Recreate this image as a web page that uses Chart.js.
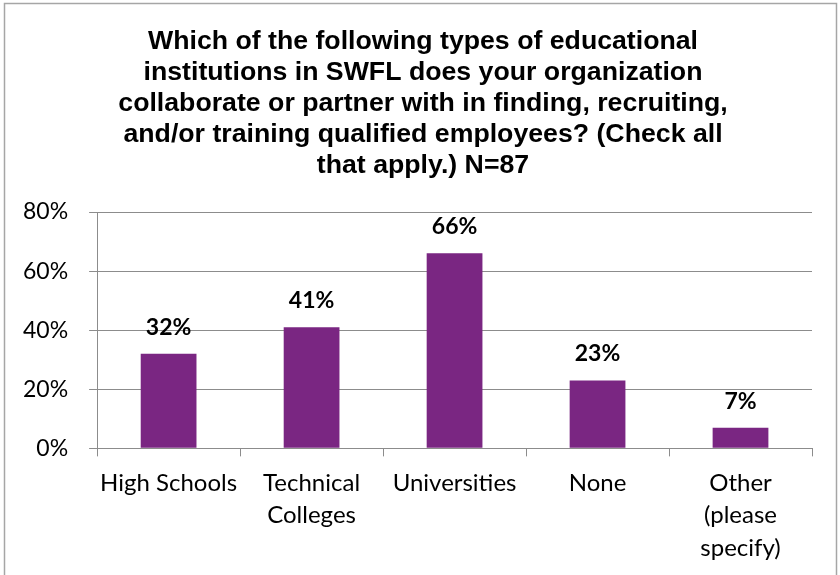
<!DOCTYPE html>
<html>
<head>
<meta charset="utf-8">
<script src="https://cdn.jsdelivr.net/npm/chart.js@4.4.1/dist/chart.umd.min.js"></script>
<style>
  html, body { margin: 0; padding: 0; background: #ffffff; }
  #wrap { position: relative; width: 840px; height: 575px; }
</style>
</head>
<body>
<div id="wrap"><canvas id="chart" width="840" height="575"></canvas></div>
<script>
// Survey: educational institution types organizations partner with (N=87)
const titleLines = [
  'Which of the following types of educational',
  'institutions in SWFL does your organization',
  'collaborate or partner with in finding, recruiting,',
  'and/or training qualified employees? (Check all',
  'that apply.) N=87'
];
const categories = [
  ['High Schools'],
  ['Technical', 'Colleges'],
  ['Universities'],
  ['None'],
  ['Other', '(please', 'specify)']
];
const percentValues = [32, 41, 66, 23, 7];
const yTicks = [0, 20, 40, 60, 80];

const BAR_COLOR = '#7A2682';
const GRID_COLOR = '#8C8C8C';
const BODY_FONT = 'Lato, "Open Sans", sans-serif';
const TITLE_FONT = 'bold 26.7px "Liberation Sans", Arial, sans-serif';

// Frame around the whole chart
const framePlugin = {
  id: 'frame',
  beforeDraw(chart) {
    const ctx = chart.ctx;
    ctx.save();
    ctx.fillStyle = '#ffffff';
    ctx.fillRect(0, 0, chart.width, chart.height);
    ctx.strokeStyle = '#A6A6A6';
    ctx.lineWidth = 1.5;
    ctx.strokeRect(4.5, 3.5, chart.width - 8, chart.height + 10);
    ctx.restore();
  }
};

// Centered multi-line title in the space reserved above the plot
const titleBlock = {
  id: 'titleBlock',
  afterDraw(chart) {
    const ctx = chart.ctx;
    ctx.save();
    ctx.font = TITLE_FONT;
    ctx.fillStyle = '#000000';
    ctx.textAlign = 'center';
    ctx.textBaseline = 'middle';
    const cx = chart.width / 2 + 3;
    titleLines.forEach((line, i) => {
      ctx.fillText(line, cx, 42 + i * 31);
    });
    ctx.restore();
  }
};

// Percentage label above each bar
const valueLabels = {
  id: 'valueLabels',
  afterDatasetsDraw(chart) {
    const ctx = chart.ctx;
    const meta = chart.getDatasetMeta(0);
    ctx.save();
    ctx.font = 'bold 23px ' + BODY_FONT;
    ctx.fillStyle = '#000000';
    ctx.textAlign = 'center';
    ctx.textBaseline = 'alphabetic';
    meta.data.forEach((bar, i) => {
      ctx.fillText(percentValues[i] + '%', bar.x, bar.y - 19);
    });
    ctx.restore();
  }
};

new Chart(document.getElementById('chart'), {
  type: 'bar',
  data: {
    labels: categories,
    datasets: [{
      data: percentValues,
      backgroundColor: BAR_COLOR,
      borderWidth: 0,
      categoryPercentage: 0.39,
      barPercentage: 1.0
    }]
  },
  options: {
    responsive: false,
    animation: false,
    layout: { padding: { left: 2, right: 28, top: 212, bottom: 0 } },
    plugins: {
      legend: { display: false },
      tooltip: { enabled: false },
      title: { display: false }
    },
    scales: {
      x: {
        grid: {
          offset: true,
          drawOnChartArea: false,
          drawTicks: true,
          tickLength: 8,
          color: GRID_COLOR
        },
        border: { color: GRID_COLOR, width: 1 },
        ticks: {
          color: '#000000',
          font: { family: BODY_FONT, size: 24, lineHeight: 1.37 },
          maxRotation: 0,
          autoSkip: false,
          padding: 10
        }
      },
      y: {
        min: 0,
        max: 80,
        afterBuildTicks(scale) {
          scale.ticks = yTicks.map(v => ({ value: v }));
        },
        grid: {
          color: GRID_COLOR,
          tickLength: 8
        },
        border: { color: GRID_COLOR, width: 1 },
        ticks: {
          color: '#000000',
          font: { family: BODY_FONT, size: 23 },
          padding: 21,
          callback: v => v + '%'
        }
      }
    }
  },
  plugins: [framePlugin, titleBlock, valueLabels]
});
</script>
</body>
</html>
